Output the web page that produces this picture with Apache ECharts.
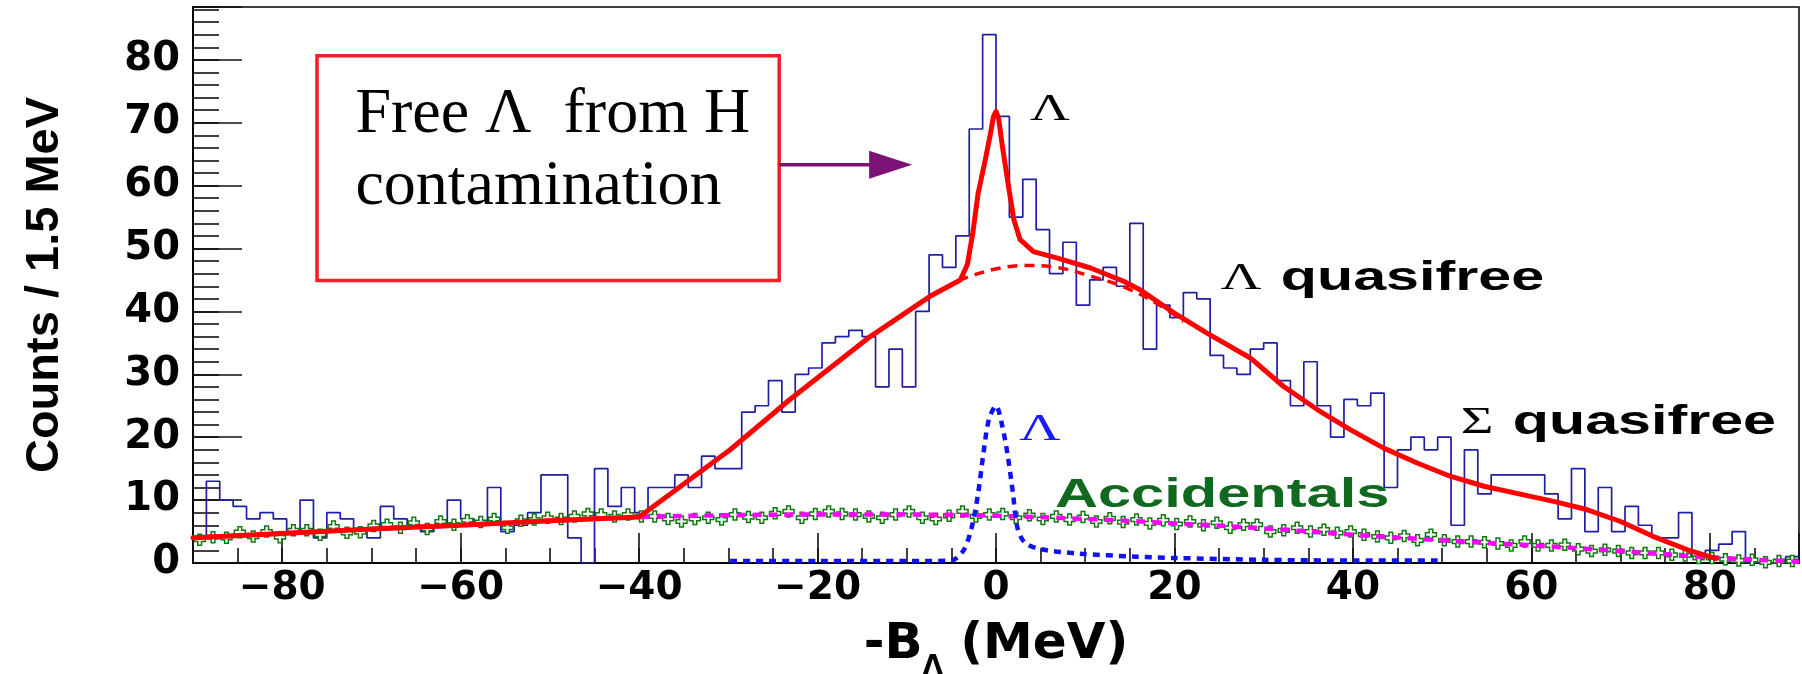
<!DOCTYPE html>
<html>
<head>
<meta charset="utf-8">
<script src="https://cdn.jsdelivr.net/npm/echarts@6/dist/echarts.min.js"></script>
<style>
html,body{margin:0;padding:0;background:#ffffff;}
#chart{width:1802px;height:674px;}
</style>
</head>
<body>
<div id="chart"></div>
<script>
// ---------------- data ----------------
const binStart = -90;
const binWidth = 1.5;

// measured counts per 1.5 MeV bin (120 bins, -90 .. 90 MeV)
const counts = [
  4,13,10,9,7,8,7,5,10,4,
  8,7,5,4,9,7,6,5,6,10,
  7,6,12,5,6,8,14,14,4,0,
  15,9,12,8,12,12,14,12,17,15,
  15,24,25,29,24,30,31,35,36,37,
  36,28,34,28,40,49,47,52,69,84,
  71,55,61,53,46,51,41,45,47,44,
  54,34,41,39,43,42,33,31,30,34,
  35,29,25,32,25,20,26,25,27,12,
  18,20,18,20,6,18,11,14,14,14,
  14,11,7,15,5,12,5,9,6,4,
  4,8,1,2,3,5,0,0,0,1
];

// accidental coincidences per bin (green open crosses)
const accidentals = [
  3.7,4.1,4.0,4.9,4.2,5.0,4.1,5.2,5.2,4.5,
  5.8,4.8,4.9,5.9,6.1,5.6,6.4,5.4,6.6,6.1,
  6.8,6.5,7.0,5.6,6.7,6.9,7.2,7.0,7.4,7.8,
  7.7,7.4,7.7,7.4,7.4,7.0,6.6,7.0,7.2,6.9,
  7.7,7.3,7.2,7.9,8.2,7.2,7.8,8.2,7.8,7.7,
  7.4,7.2,7.7,8.2,7.2,7.0,7.5,8.2,7.4,7.7,
  7.8,7.2,7.6,7.0,7.4,6.9,7.3,6.6,7.1,6.5,
  6.9,6.3,6.8,6.2,6.6,6.0,6.4,5.6,6.1,6.1,
  5.0,5.2,5.6,5.0,5.3,4.8,5.0,4.5,4.2,4.0,
  4.3,3.6,4.5,3.6,3.4,3.4,3.3,3.1,2.8,3.4,
  2.8,2.8,2.9,2.2,1.9,2.1,1.9,1.6,1.6,1.6,
  1.3,1.2,0.8,0.8,0.6,0.4,0.5,0.1,0.3,0.3
];

// total fit (solid red)
const fitTotal = [
  [-90,4.0],[-80,4.7],[-70,5.4],[-60,6.0],[-50,6.7],[-40,7.3],
  [-29.8,18.0],[-23.1,26.0],[-14.1,36.0],[-7.4,42.4],[-4.0,45.0],
  [-3.2,47.5],[-2.6,52.5],[-2.0,58.8],[-1.2,64.1],[-0.6,68.4],[-0.3,70.9],[0.0,71.8],
  [0.3,70.6],[0.66,66.8],[1.4,59.9],[2.0,54.6],[2.7,51.4],[4.2,49.5],
  [6.8,48.5],[10.6,46.9],[14.3,44.8],[16.2,43.4],[19.9,39.8],[23.6,36.6],
  [28.5,32.6],[32.2,28.1],[36.0,24.4],[39.7,21.2],[43.4,18.3],[47.2,15.9],
  [50.9,13.8],[54.7,12.2],[59.9,10.6],[62.5,9.8],[66.2,8.5],[70.0,6.6],
  [73.7,4.2],[77.5,2.1],[80.7,0.7]
];

// quasifree + accidentals without the free-Lambda peak (dashed red)
const fitQuasifree = [
  [-4.2,44.9],[-2.0,46.0],[0.5,46.9],[3.1,47.3],[6.8,47.0],
  [10.6,45.6],[14.3,43.9],[18.1,41.2],[21.0,38.4]
];

// free Lambda peak component (blue dotted)
const fitLambda = [
  [-29.8,0.3],[-20,0.3],[-10,0.3],[-5.0,0.4],[-3.6,2.1],[-2.7,5.8],
  [-2.0,11.1],[-1.4,17.5],[-0.8,22.8],[0.0,25.0],[0.67,22.0],[1.3,17.2],
  [1.9,11.1],[2.4,5.6],[3.25,3.2],[5.0,2.2],[9.3,1.5],[15.7,1.0],
  [20,0.8],[30,0.5],[40,0.4],[49.5,0.4]
];

// accidentals fit (magenta dashed)
const fitAccidentals = [
  [-90,4.0],[-80,4.7],[-70,5.4],[-60,6.0],[-50,6.7],[-40,7.3],[-30,7.6],
  [-20,7.7],[-10,7.7],[0,7.5],[10,7.0],[20,6.3],[30,5.5],[40,4.5],
  [50,3.6],[60,2.8],[70,1.9],[80,0.9],[90,0.2]
];

const xTickValues = [-80,-60,-40,-20,0,20,40,60,80];
const yTickValues = [0,10,20,30,40,50,60,70,80];
const xRange = [-90, 90];
const yRange = [0, 88.4];

// annotation anchors in data coordinates
const boxCorners = [[-76.1, 80.65], [-24.3, 44.9]];
const boxLines = [
  {text: 'Free \u039B  from H', at: [-71.8, 71.2]},
  {text: 'contamination',      at: [-71.8, 59.8]}
];
const arrowFromTo = [[-24.3, 63.3], [-9.4, 63.3]];
const labels = [
  {text: '{s|\u039B}', at: [3.8, 72.0], color: '#000000', scale: 1.45},
  {text: '{s|\u039B}{b|quasifree}', at: [25.2, 45.2], color: '#000000', scale: 1.48},
  {text: '{s|\u03A3}{b|quasifree}', at: [52.1, 22.3], color: '#000000', scale: 1.48},
  {text: '{b|Accidentals}', at: [6.6, 10.6], color: '#11691f', scale: 1.49},
  {text: '{s|\u039B}', at: [2.6, 21.2], color: '#1a1aff', scale: 1.5}
];

// ---------------- build ----------------
const histData = counts.map((c, i) => [binStart + i * binWidth, c]);
histData.push([binStart + counts.length * binWidth, counts[counts.length - 1]]);
const accData = accidentals.map((a, i) => [binStart + (i + 0.5) * binWidth, a]);

const labelFont = '"DejaVu Sans", sans-serif';
const crossPath = 'path://M3,0 L6,0 L6,3 L9,3 L9,6 L6,6 L6,9 L3,9 L3,6 L0,6 L0,3 L3,3 Z';

const chart = echarts.init(document.getElementById('chart'), null, {renderer: 'canvas'});

const option = {
  animation: false,
  backgroundColor: '#ffffff',
  grid: {
    left: 193, right: 3, top: 7, bottom: 111,
    show: true, borderColor: '#000000', borderWidth: 1.5,
    backgroundColor: 'transparent',
    containLabel: false, outerBoundsMode: 'none'
  },
  xAxis: [
    {
      type: 'value', min: xRange[0], max: xRange[1], interval: 5,
      axisLine: {show: true, onZero: false, lineStyle: {color: '#000', width: 2}},
      axisTick: {show: true, inside: true, length: 15, lineStyle: {color: '#111', width: 1.6}},
      axisLabel: {show: false},
      splitLine: {show: false},
      name: '{a|-B}{s|\u039B}{a| (MeV)}',
      nameLocation: 'middle',
      nameGap: 47,
      nameTextStyle: {
        rich: {
          a: {fontFamily: labelFont, fontWeight: 'bold', fontSize: 50, color: '#000', lineHeight: 70},
          s: {fontFamily: labelFont, fontWeight: 'bold', fontSize: 26, color: '#000', lineHeight: 70, verticalAlign: 'bottom'}
        }
      }
    },
    {
      type: 'value', min: xRange[0], max: xRange[1], splitNumber: 9,
      position: 'bottom',
      axisLine: {show: false, onZero: false},
      axisTick: {show: true, inside: true, length: 30, lineStyle: {color: '#111', width: 1.6}},
      axisLabel: {
        show: true, margin: 6, color: '#000',
        fontFamily: labelFont, fontWeight: 'bold', fontSize: 39,
        formatter: v => xTickValues.indexOf(v) >= 0 ? (v < 0 ? '\u2212' + Math.abs(v) : String(v)) : ''
      },
      splitLine: {show: false}
    }
  ],
  yAxis: [
    {
      type: 'value', min: yRange[0], max: yRange[1], interval: 2,
      position: 'left',
      axisLine: {show: true, onZero: false, lineStyle: {color: '#000', width: 2}},
      axisTick: {show: true, inside: true, length: 26, lineStyle: {color: '#111', width: 1.6}},
      axisLabel: {show: false},
      splitLine: {show: false},
      name: 'Counts / 1.5 MeV',
      nameLocation: 'middle',
      nameGap: 124,
      nameTextStyle: {fontFamily: '"Liberation Sans", Arial, sans-serif', fontWeight: 'bold', fontSize: 47, color: '#000'}
    },
    {
      type: 'value', min: yRange[0], max: yRange[1], interval: 10,
      position: 'left',
      axisLine: {show: false, onZero: false},
      axisTick: {show: true, inside: true, length: 49, lineStyle: {color: '#111', width: 1.6}},
      axisLabel: {
        show: true, margin: 13, color: '#000',
        fontFamily: labelFont, fontWeight: 'bold', fontSize: 40,
        formatter: v => yTickValues.indexOf(v) >= 0 ? String(v) : ''
      },
      splitLine: {show: false}
    }
  ],
  series: [
    {
      name: 'data', type: 'line', xAxisIndex: 0, yAxisIndex: 0,
      data: histData, step: 'end', symbol: 'none',
      lineStyle: {color: '#1e1ea6', width: 1.7}, z: 2
    },
    {
      name: 'accidentals', type: 'scatter', xAxisIndex: 0, yAxisIndex: 0,
      data: accData, symbol: crossPath, symbolSize: 11,
      itemStyle: {color: '#ffffff', borderColor: '#0b7a0b', borderWidth: 1.5, opacity: 1}, z: 3
    },
    {
      name: 'accidentals fit', type: 'line', xAxisIndex: 0, yAxisIndex: 0,
      data: fitAccidentals, smooth: 0.4, symbol: 'none',
      lineStyle: {color: '#ff00ff', width: 4.5, type: [9, 7]}, z: 8
    },
    {
      name: 'Lambda peak', type: 'line', xAxisIndex: 0, yAxisIndex: 0,
      data: fitLambda, smooth: 0.3, symbol: 'none',
      lineStyle: {color: '#1010ff', width: 4.5, type: [7, 6]}, z: 9
    },
    {
      name: 'quasifree', type: 'line', xAxisIndex: 0, yAxisIndex: 0,
      data: fitQuasifree, smooth: 0.4, symbol: 'none',
      lineStyle: {color: '#ff0000', width: 3.5, type: [10, 7]}, z: 10
    },
    {
      name: 'total fit', type: 'line', xAxisIndex: 0, yAxisIndex: 0,
      data: fitTotal, smooth: false, symbol: 'none',
      lineStyle: {color: '#ff0000', width: 5, cap: 'round', join: 'round'}, z: 11
    }
  ]
};
chart.setOption(option);

// ---------------- annotations (placed from data coordinates) ----------------
function toPx(pt) { return chart.convertToPixel({seriesIndex: 0}, pt); }

const g = [];
const c0 = toPx(boxCorners[0]), c1 = toPx(boxCorners[1]);
g.push({
  type: 'rect', z: 50,
  shape: {x: c0[0], y: c0[1], width: c1[0] - c0[0], height: c1[1] - c0[1]},
  style: {fill: '#ffffff', stroke: '#ee1f26', lineWidth: 3.5}
});
boxLines.forEach(l => {
  const p = toPx(l.at);
  g.push({
    type: 'text', z: 51, x: p[0], y: p[1],
    style: {text: l.text, fill: '#000', font: '64px "Liberation Serif", "Times New Roman", serif', align: 'left', verticalAlign: 'middle'}
  });
});
const a0 = toPx(arrowFromTo[0]), a1 = toPx(arrowFromTo[1]);
const headLen = 43, headHalf = 14;
g.push({
  type: 'line', z: 50,
  shape: {x1: a0[0], y1: a0[1], x2: a1[0] - headLen + 2, y2: a1[1]},
  style: {stroke: '#7c1275', lineWidth: 3.5}
});
g.push({
  type: 'polygon', z: 50,
  shape: {points: [[a1[0], a1[1]], [a1[0] - headLen, a1[1] - headHalf], [a1[0] - headLen, a1[1] + headHalf]]},
  style: {fill: '#7c1275'}
});
labels.forEach(l => {
  const p = toPx(l.at);
  g.push({
    type: 'text', z: 52, x: p[0], y: p[1], scaleX: l.scale, scaleY: 1, originX: 0, originY: 0,
    style: {
      text: l.text, fill: l.color, align: 'left', verticalAlign: 'middle',
      rich: {
        s: {fontFamily: '"Liberation Serif", "Times New Roman", serif', fontSize: 38, fill: l.color, padding: [0, 13, 0, 0]},
        b: {fontFamily: '"Liberation Sans", Arial, sans-serif', fontWeight: 'bold', fontSize: 40, fill: l.color}
      }
    }
  });
});
chart.setOption({graphic: g});
</script>
</body>
</html>
